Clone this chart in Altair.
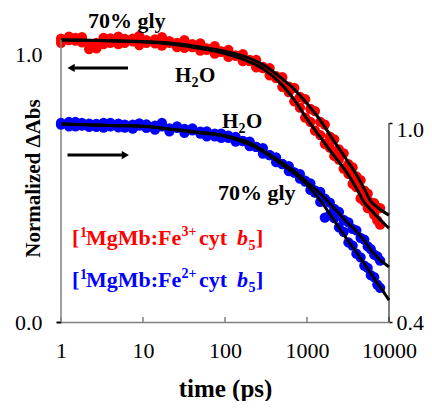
import altair as alt
import pandas as pd

FONT = "Liberation Serif"
RED = "#ff0000"
BLUE = "#0000ff"

# ---- measured data points (time in ps) ----
t_pts = [1, 1.25, 1.5, 1.8, 2.2, 2.7, 3.3, 4, 5, 6,
         7.5, 9, 11, 14, 17, 21, 26, 32, 40, 50,
         60, 75, 90, 110, 135, 165, 200, 240, 290, 350,
         420, 500, 600, 700, 820, 950, 1100, 1250, 1450, 1650,
         1900, 2150, 2450, 2800, 3200, 3600, 4000, 4500, 5000, 5500,
         6000, 6600, 7200, 7800]

# Fe3+ (left axis)
red_gly_pts = [1.005, 1.012, 0.998, 1.01, 0.985, 0.97, 1.008, 0.99, 1.012, 1.004,
               0.995, 1.015, 1.0, 0.988, 1.01, 0.996, 0.99, 1.0, 0.975, 0.988,
               0.965, 0.978, 0.96, 0.965, 0.945, 0.95, 0.93, 0.93, 0.905, 0.9,
               0.872, 0.868, 0.835, 0.83, 0.798, 0.79, 0.756, 0.748, 0.71, 0.7,
               0.657, 0.648, 0.612, 0.598, 0.56, 0.548, 0.516, 0.503, 0.466, 0.455,
               0.424, 0.422, 0.405, 0.404]
red_h2o_pts = [0.99, 1.0, 1.008, 0.992, 0.968, 0.99, 0.985, 1.006, 0.985, 0.99,
               1.005, 0.982, 0.99, 1.002, 0.98, 0.99, 0.975, 0.972, 0.985, 0.962,
               0.97, 0.952, 0.958, 0.94, 0.945, 0.925, 0.925, 0.903, 0.9, 0.875,
               0.865, 0.834, 0.815, 0.782, 0.76, 0.725, 0.71, 0.679, 0.663, 0.632,
               0.618, 0.589, 0.576, 0.544, 0.525, 0.49, 0.478, 0.438, 0.428, 0.404,
               0.401, 0.38, 0.36, 0.345]
# Fe2+ (right axis)
blue_h2o_pts = [1.0, 0.99, 1.003, 0.992, 0.998, 0.988, 1.0, 0.99, 0.998, 0.986,
                0.995, 0.999, 0.985, 0.992, 1.0, 0.984, 0.99, 0.982, 0.984, 0.968,
                0.975, 0.96, 0.968, 0.955, 0.958, 0.945, 0.944, 0.928, 0.924, 0.903,
                0.896, 0.876, 0.87, 0.851, 0.846, 0.826, 0.818, 0.797, 0.792, 0.772,
                0.76, 0.741, 0.732, 0.708, 0.7, 0.681, 0.676, 0.654, 0.648, 0.628,
                0.62, 0.603, 0.598, 0.585]
blue_gly_pts = [0.995, 1.003, 0.99, 1.0, 0.988, 0.997, 0.986, 1.0, 0.987, 0.995,
                0.983, 0.992, 0.996, 0.98, 0.99, 0.975, 0.985, 0.97, 0.978, 0.974,
                0.96, 0.968, 0.955, 0.962, 0.944, 0.946, 0.93, 0.928, 0.908, 0.903,
                0.882, 0.877, 0.855, 0.85, 0.832, 0.823, 0.798, 0.79, 0.762, 0.715,
                0.722, 0.713, 0.685, 0.672, 0.64, 0.63, 0.606, 0.595, 0.57, 0.563,
                0.541, 0.535, 0.513, 0.503]

# ---- fitted curves ----
t_fit = [1, 2, 5, 10, 20, 50, 100, 200, 300, 500, 700, 1000, 1500, 2000,
         3000, 4000, 5000, 6000, 7000, 8000, 9000, 10000]
red_gly_fit = [1.0, 0.999, 0.997, 0.995, 0.99, 0.975, 0.96, 0.935, 0.91, 0.862, 0.825,
               0.775, 0.71, 0.654, 0.578, 0.523, 0.472, 0.428, 0.41, 0.397, 0.387, 0.379]
red_h2o_fit = [1.0, 0.999, 0.996, 0.993, 0.987, 0.97, 0.952, 0.922, 0.895, 0.84, 0.788,
               0.72, 0.65, 0.601, 0.533, 0.475, 0.424, 0.398, 0.377, 0.36, 0.345, 0.333]
blue_h2o_fit = [0.997, 0.995, 0.992, 0.99, 0.983, 0.972, 0.962, 0.94, 0.915, 0.88, 0.855,
                0.822, 0.784, 0.751, 0.704, 0.673, 0.645, 0.617, 0.599, 0.584, 0.575, 0.566]
blue_gly_fit = [0.997, 0.995, 0.992, 0.99, 0.982, 0.97, 0.96, 0.935, 0.912, 0.874, 0.848,
                0.813, 0.762, 0.717, 0.653, 0.611, 0.575, 0.546, 0.522, 0.502, 0.483, 0.466]

x_ticks = [1, 10, 100, 1000, 10000]
left_ticks = [0.0, 1.0]
right_ticks = [0.4, 1.0]

W, H = 328, 294

xscale = alt.Scale(type="log", domain=[1, 10000])
yl_scale = alt.Scale(domain=[0, 1.0426], nice=False, zero=False)
yr_scale = alt.Scale(domain=[0.4, 1.2864], nice=False, zero=False)

label_off = {"condition": {"test": "datum.value == 1", "value": 14}, "value": 0}
label_off_r = {"condition": {"test": "datum.value == 1", "value": 7}, "value": 0}

X = alt.X("t:Q", scale=xscale, axis=alt.Axis(
    values=x_ticks, format="d", ticks=False, tickSize=0, domainColor="#808080",
    domainWidth=1.5, labelPadding=18, labelFont=FONT, labelFontSize=22,
    labelFlush=False, labelColor="black", grid=False, title="time (ps)",
    titleFont=FONT, titleFontSize=25, titleFontWeight="bold", titleColor="black",
    titleY=74, titleBaseline="alphabetic"))
YL = alt.Y("v:Q", scale=yl_scale, axis=alt.Axis(
    values=left_ticks, format=".1f", domain=False, tickColor="black", tickSize=5,
    tickWidth=2, labelPadding=14, labelOffset=label_off, labelFont=FONT,
    labelFontSize=22, labelFlush=False, labelColor="black", grid=False,
    title="Normalized ΔAbs", titleFont=FONT, titleFontSize=21,
    titleFontWeight="bold", titleColor="black", titleX=-28, titleY=150,
    titleAngle=270, titleAlign="center", titleBaseline="middle"))
YR = alt.Y("v:Q", scale=yr_scale, axis=alt.Axis(
    orient="right", values=right_ticks, format=".1f", domain=False,
    tickColor="black", tickSize=3, tickWidth=1.5, labelPadding=4,
    labelOffset=label_off_r, labelFont=FONT, labelFontSize=22,
    labelFlush=False, labelColor="black", grid=False, title=None))

n = len(t_pts)
red_df = pd.DataFrame({"t": t_pts * 2, "v": red_gly_pts + red_h2o_pts,
                       "s": ["gly"] * n + ["h2o"] * n})
blue_df = pd.DataFrame({"t": t_pts * 2, "v": blue_h2o_pts + blue_gly_pts,
                        "s": ["h2o"] * n + ["gly"] * n})
m = len(t_fit)
red_fit_df = pd.DataFrame({"t": t_fit * 2, "v": red_gly_fit + red_h2o_fit,
                           "s": ["gly"] * m + ["h2o"] * m})
blue_fit_df = pd.DataFrame({"t": t_fit * 2, "v": blue_h2o_fit + blue_gly_fit,
                            "s": ["h2o"] * m + ["gly"] * m})


def piece(text, t, v, dx=0, dy=0, size=22, color="black", style="normal"):
    df = pd.DataFrame({"t": [t], "v": [v], "s": [text]})
    return alt.Chart(df).mark_text(
        font=FONT, fontSize=size, fontWeight="bold", fontStyle=style, color=color,
        align="left", baseline="alphabetic", dx=dx, dy=dy
    ).encode(x=X, y=YL, text="s:N")


def legend(t, v, color, charge):
    return [
        piece("[", t, v, 0, 0, 22, color),
        piece("1", t, v, 8, -8, 14, color),
        piece("MgMb:Fe", t, v, 14, 0, 22, color),
        piece(charge, t, v, 109.5, -9, 14, color),
        piece("cyt", t, v, 127, 0, 22, color),
        piece("b", t, v, 165, 0, 22, color, "italic"),
        piece("5", t, v, 176.5, 5, 14, color),
        piece("]", t, v, 184, 0, 22, color),
    ]


def h2o(t, v):
    return [piece("H", t, v, 0, 0, 21), piece("2", t, v, 16.5, 5, 14),
            piece("O", t, v, 24, 0, 21)]


red_pts = alt.Chart(red_df).mark_circle(size=105, color=RED, opacity=1).encode(x=X, y=YL, detail="s:N")
red_lines = alt.Chart(red_fit_df).mark_line(color="black", strokeWidth=3, interpolate="monotone").encode(x=X, y=YL, detail="s:N")
left_rule = alt.Chart(pd.DataFrame({"t": [1], "v": [0.0], "v2": [1.0]})).mark_rule(
    color="#808080", strokeWidth=1.5).encode(x=X, y=YL, y2=alt.Y2("v2:Q"))
xtick_rules = alt.Chart(pd.DataFrame({"t": x_ticks})).mark_rule(
    color="#808080", strokeWidth=1.5).encode(x=X, y=alt.value(H), y2=alt.value(H - 5))

arrow_l_shaft = alt.Chart(pd.DataFrame({"t": [1.45], "t2": [6.56], "v": [0.901]})).mark_rule(
    color="black", strokeWidth=3).encode(x=X, x2=alt.X2("t2:Q"), y=YL)
arrow_l_head = alt.Chart(pd.DataFrame({"t": [1.33], "v": [0.901]})).mark_point(
    shape="triangle-left", filled=True, size=70, color="black", opacity=1).encode(x=X, y=YL)
arrow_r_shaft = alt.Chart(pd.DataFrame({"t": [1.2], "t2": [5.6], "v": [0.592]})).mark_rule(
    color="black", strokeWidth=3).encode(x=X, x2=alt.X2("t2:Q"), y=YL)
arrow_r_head = alt.Chart(pd.DataFrame({"t": [6.1], "v": [0.592]})).mark_point(
    shape="triangle-right", filled=True, size=70, color="black", opacity=1).encode(x=X, y=YL)

left_layers = [red_pts, red_lines, left_rule, xtick_rules,
               arrow_l_shaft, arrow_l_head, arrow_r_shaft, arrow_r_head,
               piece("70% gly", 2.13, 1.0415, 0, 0, 22),
               piece("70% gly", 82, 0.4326, 0, 0, 22)]
left_layers += h2o(24.6, 0.852) + h2o(92.1, 0.687)
left_layers += legend(1.36, 0.273, RED, "3+") + legend(1.36, 0.123, BLUE, "2+")
left = alt.layer(*left_layers)

blue_pts = alt.Chart(blue_df).mark_circle(size=105, color=BLUE, opacity=1).encode(x=X, y=YR, detail="s:N")
blue_lines = alt.Chart(blue_fit_df).mark_line(color="black", strokeWidth=3, interpolate="monotone").encode(x=X, y=YR, detail="s:N")
right_rule = alt.Chart(pd.DataFrame({"t": [10000], "v": [0.4], "v2": [1.0]})).mark_rule(
    color="black", strokeWidth=1).encode(x=X, y=YR, y2=alt.Y2("v2:Q"))
right = alt.layer(blue_pts, blue_lines, right_rule)

chart = alt.layer(left, right).resolve_scale(y="independent").properties(
    width=W, height=H,
    padding={"left": 53, "top": 20, "right": 35, "bottom": 79},
    autosize=alt.AutoSizeParams(type="none"),
).configure_view(stroke=None).configure_axis(
    grid=False, labelFont=FONT, titleFont=FONT
).configure_text(font=FONT)

chart.save("out.html", embed_options={"renderer": "svg", "actions": False})
